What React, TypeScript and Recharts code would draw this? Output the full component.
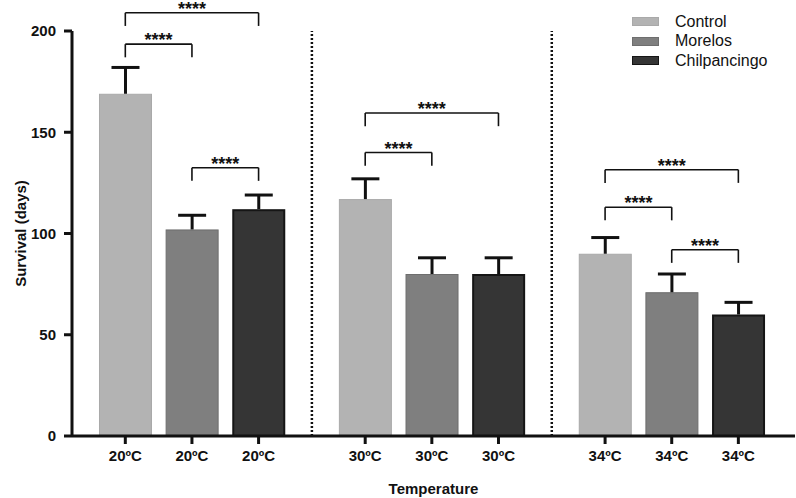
import { Bar, BarChart, ReferenceLine, XAxis, YAxis } from 'recharts';

const temperatures = ['20ºC', '30ºC', '34ºC'];
const seriesNames = ['Control', 'Morelos', 'Chilpancingo'];
const controlMean = [169, 117, 90];
const controlErr = [13, 10, 8];
const morelosMean = [102, 80, 71];
const morelosErr = [7, 8, 9];
const chilpancingoMean = [112, 80, 60];
const chilpancingoErr = [7, 8, 6];
const yTicks = [0, 50, 100, 150, 200];

// significance brackets: temperature group, bar a, bar b, height (days)
const brackets = [
  { temp: 0, from: 0, to: 2, level: 209 },
  { temp: 0, from: 0, to: 1, level: 193.5 },
  { temp: 0, from: 1, to: 2, level: 132.5 },
  { temp: 1, from: 0, to: 2, level: 159.5 },
  { temp: 1, from: 0, to: 1, level: 140 },
  { temp: 2, from: 0, to: 2, level: 131.5 },
  { temp: 2, from: 0, to: 1, level: 113 },
  { temp: 2, from: 1, to: 2, level: 92 },
];
const stars = '****';

const FONT = '"Liberation Sans", Arial, sans-serif';
const INK = '#111';
const GROUP_STEP = 3.6;
const DROP = 6.5;
const seriesFill = ['#b3b3b3', '#7f7f7f', '#353535'];
const seriesStroke = ['#a9a9a9', '#6e6e6e', '#151515'];
const seriesStrokeWidth = [1, 1, 2];

const means = [controlMean, morelosMean, chilpancingoMean];
const errs = [controlErr, morelosErr, chilpancingoErr];

const xOf = (temp: number, s: number) => temp * GROUP_STEP + s;

const rows = temperatures.flatMap((t, ti) =>
  seriesNames.map((_, si) => ({
    x: xOf(ti, si),
    label: t,
    series: si,
    value: means[si][ti],
    err: errs[si][ti],
  })),
);

const separators = temperatures.slice(1).map((_, i) => xOf(i + 1, 0) - (GROUP_STEP - 2) / 2);

function BarWithError(props: any) {
  const { x, y, width, height, payload } = props;
  const si = payload.series;
  const sw = seriesStrokeWidth[si];
  const pxPerDay = height / payload.value;
  const top = y - payload.err * pxPerDay;
  const cx = x + width / 2;
  return (
    <g>
      <rect
        x={x + sw / 2}
        y={y + sw / 2}
        width={width - sw}
        height={height - sw / 2}
        fill={seriesFill[si]}
        stroke={seriesStroke[si]}
        strokeWidth={sw}
      />
      <line x1={cx} x2={cx} y1={y} y2={top} stroke={INK} strokeWidth={3} />
      <line x1={cx - 14} x2={cx + 14} y1={top} y2={top} stroke={INK} strokeWidth={3} />
    </g>
  );
}

function YLabel(props: any) {
  const { x, y, height } = props.viewBox;
  const cx = x + 8;
  const cy = y + height / 2;
  return (
    <text
      x={cx}
      y={cy}
      transform={`rotate(-90 ${cx} ${cy})`}
      textAnchor="middle"
      dominantBaseline="central"
      fontSize={15}
      fontWeight={700}
      fill={INK}
    >
      Survival (days)
    </text>
  );
}

export default function App() {
  return (
    <div style={{ position: 'absolute', left: 0, top: 0, width: 796, height: 498, fontFamily: FONT, background: '#fff' }}>
      <BarChart
        width={796}
        height={498}
        data={rows}
        margin={{ top: 31, right: 1, left: 12, bottom: 4 }}
      >
        <XAxis
          type="number"
          dataKey="x"
          domain={[-0.8, 10.05]}
          allowDataOverflow
          padding={{ left: 0, right: 0 }}
          ticks={rows.map((r) => r.x)}
          interval={0}
          tickFormatter={(v: number) => rows.find((r) => Math.abs(r.x - v) < 1e-6)?.label ?? ''}
          tick={{ fill: INK, fontSize: 15, fontWeight: 700 }}
          tickSize={8}
          tickMargin={6}
          tickLine={{ stroke: INK, strokeWidth: 3 }}
          axisLine={{ stroke: INK, strokeWidth: 3 }}
          height={58}
          label={{ value: 'Temperature', position: 'insideBottom', offset: 0, fontSize: 15, fontWeight: 700, fill: INK }}
        />
        <YAxis
          domain={[0, 200]}
          ticks={yTicks}
          width={60}
          tick={{ fill: INK, fontSize: 15, fontWeight: 700 }}
          tickSize={8}
          tickMargin={8}
          tickLine={{ stroke: INK, strokeWidth: 3 }}
          axisLine={{ stroke: INK, strokeWidth: 3 }}
          label={{ content: YLabel }}
        />
        {separators.map((sx) => (
          <ReferenceLine key={sx} x={sx} stroke={INK} strokeWidth={2.5} strokeDasharray="2 2" ifOverflow="visible" />
        ))}
        <Bar dataKey="value" barSize={53} isAnimationActive={false} shape={BarWithError} />
        {brackets.map((b, i) => {
          const x1 = xOf(b.temp, b.from);
          const x2 = xOf(b.temp, b.to);
          return [
            <ReferenceLine
              key={`h${i}`}
              segment={[{ x: x1, y: b.level }, { x: x2, y: b.level }]}
              stroke={INK}
              strokeWidth={1.6}
              ifOverflow="visible"
              label={{ value: stars, position: 'top', offset: -2, fontSize: 18, fontWeight: 700, fill: INK }}
            />,
            <ReferenceLine
              key={`l${i}`}
              segment={[{ x: x1, y: b.level }, { x: x1, y: b.level - DROP }]}
              stroke={INK}
              strokeWidth={1.6}
              ifOverflow="visible"
            />,
            <ReferenceLine
              key={`r${i}`}
              segment={[{ x: x2, y: b.level }, { x: x2, y: b.level - DROP }]}
              stroke={INK}
              strokeWidth={1.6}
              ifOverflow="visible"
            />,
          ];
        })}
      </BarChart>
      <div style={{ position: 'absolute', left: 632, top: 12 }}>
        {seriesNames.map((name, i) => (
          <div key={name} style={{ display: 'flex', alignItems: 'center', height: 19.5 }}>
            <span
              style={{
                display: 'inline-block',
                width: 25,
                height: 7,
                background: seriesFill[i],
                border: `1px solid ${seriesStroke[i]}`,
              }}
            />
            <span style={{ marginLeft: 16, fontSize: 16, color: INK }}>{name}</span>
          </div>
        ))}
      </div>
    </div>
  );
}
